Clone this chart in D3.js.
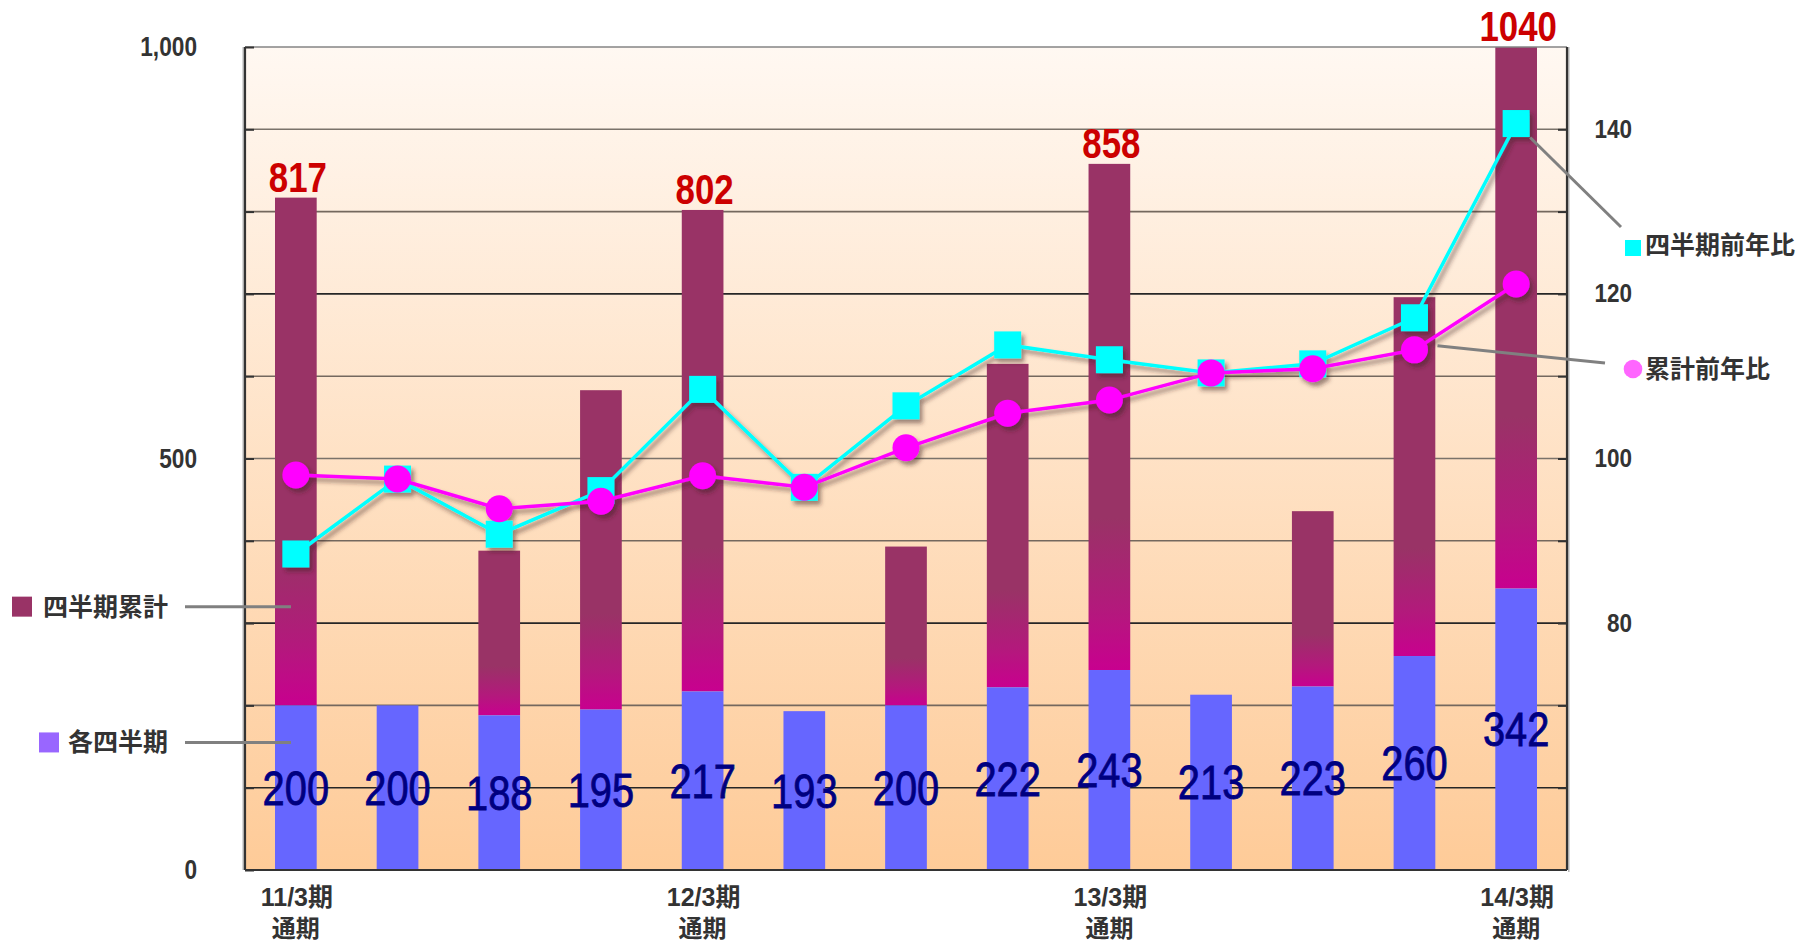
<!DOCTYPE html>
<html>
<head>
<meta charset="utf-8">
<script src="https://cdn.jsdelivr.net/npm/d3@7"></script>
<style>
  body { margin: 0; background: #ffffff; }
  svg text { font-family: "Liberation Sans", Arial, "Noto Sans CJK JP", sans-serif; }
  .jp { font-family: "Noto Sans CJK JP", sans-serif; }
</style>
</head>
<body>
<svg id="chart" width="1808" height="943"></svg>
<script>
// Quarterly sales, cumulative sales and year-on-year ratios (FY11/3 full year to FY14/3 full year)
const categories = ["11/3期通期", "12/3期1Q", "12/3期2Q", "12/3期3Q", "12/3期通期",
                    "13/3期1Q", "13/3期2Q", "13/3期3Q", "13/3期通期",
                    "14/3期1Q", "14/3期2Q", "14/3期3Q", "14/3期通期"];
const quarterly = [200, 200, 188, 195, 217, 193, 200, 222, 243, 213, 223, 260, 342];
const cumulative = [817, 200, 388, 583, 802, 193, 393, 615, 858, 213, 436, 696, 1040];
const quarterlyYoY = [88.4, 97.5, 90.8, 96.1, 108.4, 96.5, 106.4, 113.8, 112.0, 110.4, 111.5, 117.1, 140.7];
const cumulativeYoY = [98.0, 97.5, 93.9, 94.8, 97.9, 96.5, 101.3, 105.5, 107.1, 110.4, 110.9, 113.2, 121.2];
const periodLabels = ["11/3期", "", "", "", "12/3期", "", "", "", "13/3期", "", "", "", "14/3期"];
const fullYearLabel = "通期";
const leftTickLabels = [0, 500, 1000];
const rightTickLabels = [80, 100, 120, 140];
const legendCumulative = "四半期累計";
const legendQuarterly = "各四半期";
const legendQuarterlyYoY = "四半期前年比";
const legendCumulativeYoY = "累計前年比";

const svg = d3.select("#chart");
const plot = { left: 245, right: 1567, top: 47, bottom: 870 };
const narrow = 0.83;   // horizontal squeeze for the numeric labels

const x = d3.scaleBand().domain(categories)
  .range([plot.left, plot.right]).paddingInner(0.59).paddingOuter(0.295);
const yL = d3.scaleLinear().domain([0, 1000]).range([plot.bottom, plot.top]);
const yR = d3.scaleLinear().domain([50, 150]).range([plot.bottom, plot.top]);
const cx = c => x(c) + x.bandwidth() / 2;

const defs = svg.append("defs");
const bg = defs.append("linearGradient").attr("id", "bgGrad").attr("x1", 0).attr("y1", 0).attr("x2", 0).attr("y2", 1);
bg.append("stop").attr("offset", "0%").attr("stop-color", "#fff8f2");
bg.append("stop").attr("offset", "100%").attr("stop-color", "#fecb98");

const barGrad = defs.append("linearGradient").attr("id", "cumGrad").attr("x1", 0).attr("y1", 0).attr("x2", 0).attr("y2", 1);
barGrad.append("stop").attr("offset", "0%").attr("stop-color", "#993366");
barGrad.append("stop").attr("offset", "70%").attr("stop-color", "#993366");
barGrad.append("stop").attr("offset", "88%").attr("stop-color", "#b3197c");
barGrad.append("stop").attr("offset", "100%").attr("stop-color", "#c8008f");

defs.append("clipPath").attr("id", "plotClip").append("rect")
  .attr("x", plot.left).attr("y", plot.top)
  .attr("width", plot.right - plot.left).attr("height", plot.bottom - plot.top);

const shadow = defs.append("filter").attr("id", "shadow")
  .attr("x", "-10%").attr("y", "-10%").attr("width", "130%").attr("height", "130%");
shadow.append("feDropShadow").attr("dx", 3).attr("dy", 4).attr("stdDeviation", 2.2)
  .attr("flood-color", "#3a2020").attr("flood-opacity", 0.5);

// squeezed numeric text anchored at (px, py)
const numText = (sel, px, py) => sel
  .attr("x", 0).attr("y", 0)
  .attr("transform", (d, i) => `translate(${px(d, i)},${py(d, i)}) scale(${narrow},1)`);

// plot background
svg.append("rect").attr("x", plot.left).attr("y", plot.top)
  .attr("width", plot.right - plot.left).attr("height", plot.bottom - plot.top)
  .attr("fill", "url(#bgGrad)");

// horizontal gridlines
const gridColor = v => (v === 900 || v === 500) ? "#7a726a" : ((v / 100) % 2 === 1 ? "#262626" : "#74685e");
svg.append("g").selectAll("line").data(d3.range(100, 1000, 100)).join("line")
  .attr("x1", plot.left).attr("x2", plot.right)
  .attr("y1", d => yL(d)).attr("y2", d => yL(d))
  .attr("stroke", gridColor).attr("stroke-width", 1.6);

// bars: cumulative part above the quarter, quarter at the base
const bars = svg.append("g").attr("clip-path", "url(#plotClip)");
bars.selectAll("rect.cum").data(categories.filter((c, i) => cumulative[i] > quarterly[i])).join("rect")
  .attr("class", "cum")
  .attr("x", c => x(c)).attr("width", x.bandwidth())
  .attr("y", c => yL(cumulative[categories.indexOf(c)]))
  .attr("height", c => { const i = categories.indexOf(c); return yL(quarterly[i]) - yL(cumulative[i]); })
  .attr("fill", "url(#cumGrad)");
bars.selectAll("rect.q").data(categories).join("rect")
  .attr("class", "q")
  .attr("x", c => x(c)).attr("width", x.bandwidth())
  .attr("y", (c, i) => yL(quarterly[i]))
  .attr("height", (c, i) => yL(0) - yL(quarterly[i]))
  .attr("fill", "#6666ff");

// quarterly value labels, centred in the blue bars
svg.append("g").selectAll("text").data(categories).join("text")
  .call(numText, c => cx(c), (c, i) => (yL(quarterly[i]) + yL(0)) / 2 + 17)
  .attr("text-anchor", "middle")
  .attr("font-size", 48).attr("fill", "#000080")
  .attr("stroke", "#000080").attr("stroke-width", 0.8)
  .text((c, i) => quarterly[i]);

// full-year totals above the bars
const fullYears = categories.filter((c, i) => periodLabels[i] !== "");
svg.append("g").selectAll("text").data(fullYears).join("text")
  .call(numText, c => cx(c) + 2, c => Math.max(yL(cumulative[categories.indexOf(c)]), plot.top) - 6)
  .attr("text-anchor", "middle")
  .attr("font-size", 42).attr("font-weight", "bold").attr("fill", "#cc0000")
  .text(c => cumulative[categories.indexOf(c)]);

// frame
svg.append("line").attr("x1", plot.left).attr("x2", plot.right).attr("y1", plot.top).attr("y2", plot.top)
  .attr("stroke", "#858585").attr("stroke-width", 1.6);
svg.append("line").attr("x1", plot.left - 1.8).attr("x2", plot.left - 1.8).attr("y1", plot.top).attr("y2", plot.bottom)
  .attr("stroke", "#b4b4b4").attr("stroke-width", 1.4);
svg.append("line").attr("x1", plot.right + 1.8).attr("x2", plot.right + 1.8).attr("y1", plot.top).attr("y2", plot.bottom + 2)
  .attr("stroke", "#b4b4b4").attr("stroke-width", 1.4);
[[plot.left, plot.top, plot.left, plot.bottom], [plot.right, plot.top, plot.right, plot.bottom],
 [plot.left, plot.bottom, plot.right, plot.bottom]].forEach(([x1, y1, x2, y2]) =>
  svg.append("line").attr("x1", x1).attr("y1", y1).attr("x2", x2).attr("y2", y2)
    .attr("stroke", "#333333").attr("stroke-width", 2.2));

// squeeze axis tick texts while keeping their anchor position
const squeezeTicks = (g, s) => g.selectAll(".tick text").each(function() {
  const t = d3.select(this);
  t.attr("x", (+t.attr("x")) / s).attr("transform", `scale(${s},1)`);
});

// left axis: inner ticks every 100, labels at 0 / 500 / 1,000
const axL = svg.append("g").attr("transform", `translate(${plot.left},0)`)
  .call(d3.axisLeft(yL).tickValues(d3.range(0, 1001, 100)).tickSize(-9).tickPadding(48)
    .tickFormat(d => leftTickLabels.includes(d) ? d3.format(",")(d) : ""));
axL.select(".domain").remove();
axL.selectAll(".tick line").attr("stroke", "#333333").attr("stroke-width", 2);
axL.selectAll(".tick text").attr("font-size", 27).attr("font-weight", "bold").attr("fill", "#333333")
  .attr("font-family", "'Liberation Sans', Arial, sans-serif");
squeezeTicks(axL, 0.84);

// right axis: ratio scale
const axR = svg.append("g").attr("transform", `translate(${plot.right},0)`)
  .call(d3.axisRight(yR).tickValues(d3.range(60, 150, 10)).tickSize(-9).tickPadding(65)
    .tickFormat(d => rightTickLabels.includes(d) ? d : ""));
axR.select(".domain").remove();
axR.selectAll(".tick line").attr("stroke", "#333333").attr("stroke-width", 2);
axR.selectAll(".tick text").attr("text-anchor", "end").attr("font-size", 25).attr("font-weight", "bold")
  .attr("fill", "#333333").attr("font-family", "'Liberation Sans', Arial, sans-serif");
squeezeTicks(axR, 0.9);

// category axis: full-year periods only, two lines each
const axB = svg.append("g").attr("transform", `translate(0,${plot.bottom})`)
  .call(d3.axisBottom(x).tickSize(0).tickFormat(""));
axB.select(".domain").remove();
axB.selectAll(".tick").each(function(c, i) {
  if (!periodLabels[i]) return;
  const tick = d3.select(this);
  tick.append("text").attr("text-anchor", "middle").attr("x", 1).attr("y", 36)
    .attr("font-size", 25).attr("font-weight", "bold").attr("fill", "#333333")
    .text(periodLabels[i]);
  tick.append("text").attr("class", "jp").attr("text-anchor", "middle").attr("x", 0).attr("y", 67)
    .attr("font-size", 24).attr("font-weight", "bold").attr("fill", "#333333")
    .text(fullYearLabel);
});

// ratio lines with markers
const lineGen = yScale => d3.line().x((d, i) => cx(categories[i])).y(d => yScale(d));
const series = svg.append("g").attr("filter", "url(#shadow)");
series.append("path").datum(quarterlyYoY).attr("d", lineGen(yR))
  .attr("fill", "none").attr("stroke", "#00ffff").attr("stroke-width", 3.5);
series.selectAll("rect.m").data(quarterlyYoY).join("rect").attr("class", "m")
  .attr("x", (d, i) => cx(categories[i]) - 13.5).attr("y", d => yR(d) - 13.5)
  .attr("width", 27).attr("height", 27).attr("fill", "#00ffff");
series.append("path").datum(cumulativeYoY).attr("d", lineGen(yR))
  .attr("fill", "none").attr("stroke", "#ff00ff").attr("stroke-width", 3.5);
series.selectAll("circle").data(cumulativeYoY).join("circle")
  .attr("cx", (d, i) => cx(categories[i])).attr("cy", d => yR(d)).attr("r", 13.5)
  .attr("fill", "#ff00ff");

// legends with leader lines
const leader = (x1, y1, x2, y2) => svg.append("line")
  .attr("x1", x1).attr("y1", y1).attr("x2", x2).attr("y2", y2)
  .attr("stroke", "#808080").attr("stroke-width", 3);
const legendText = (xPos, yPos, anchor, label) => svg.append("text").attr("class", "jp")
  .attr("x", xPos).attr("y", yPos).attr("text-anchor", anchor)
  .attr("font-size", 25).attr("font-weight", "bold").attr("fill", "#333333").text(label);

leader(185, yL(320), 291, yL(320));
leader(185, yL(155), 291, yL(155));
svg.append("rect").attr("x", 12).attr("y", yL(320) - 10).attr("width", 20).attr("height", 20).attr("fill", "#993366");
legendText(168, yL(320) + 9, "end", legendCumulative);
svg.append("rect").attr("x", 39).attr("y", yL(155) - 10).attr("width", 20).attr("height", 20).attr("fill", "#9966ff");
legendText(168, yL(155) + 9, "end", legendQuarterly);

const last = categories.length - 1;
leader(cx(categories[last]) + 14, yR(quarterlyYoY[last]) + 14, 1621, 227);
leader(cx(categories[last - 1]) + 23, yR(cumulativeYoY[last - 1]) - 4, 1605, 363);
svg.append("rect").attr("x", 1625).attr("y", 240).attr("width", 16).attr("height", 16).attr("fill", "#00ffff");
legendText(1645, 254, "start", legendQuarterlyYoY);
svg.append("circle").attr("cx", 1633).attr("cy", 369).attr("r", 9.3).attr("fill", "#ff66ff");
legendText(1645, 378, "start", legendCumulativeYoY);
</script>
</body>
</html>
